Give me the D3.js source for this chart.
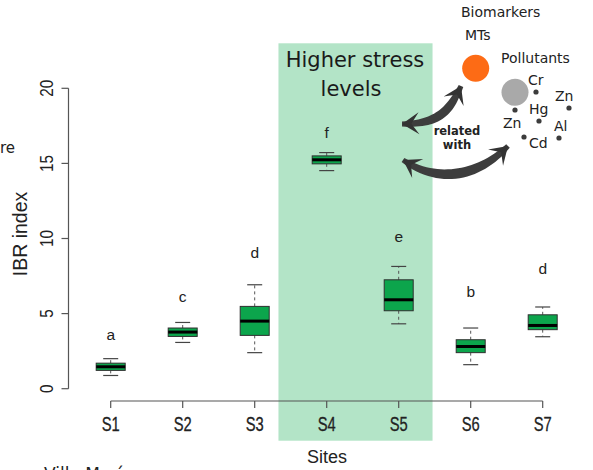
<!DOCTYPE html>
<html lang="en">
<head>
<meta charset="UTF-8">
<title>IBR index by site</title>
<style>
  body { margin: 0; padding: 0; background: #fff; overflow: hidden; }
  svg { display: block; }
  .sans { font-family: "Liberation Sans", Arial, sans-serif; }
  .dv { font-family: "DejaVu Sans", Verdana, sans-serif; }
</style>
</head>
<body>
<svg id="chart" width="593" height="470"></svg>
<script src="https://d3js.org/d3.v7.min.js"></script>
<script>
// Box statistics (IBR index per site)
const sites = ["S1", "S2", "S3", "S4", "S5", "S6", "S7"];
const whiskerLow = [0.88, 3.08, 2.40, 14.52, 4.32, 1.60, 3.46];
const q1 = [1.22, 3.48, 3.55, 14.97, 5.19, 2.40, 3.93];
const medians = [1.46, 3.77, 4.50, 15.24, 5.92, 2.81, 4.21];
const q3 = [1.70, 4.04, 5.48, 15.50, 7.25, 3.26, 4.92];
const whiskerHigh = [2.00, 4.41, 6.92, 15.72, 8.14, 4.04, 5.44];
// significance letters and the height (in IBR units) of their baseline
const letters = ["a", "c", "d", "f", "e", "b", "d"];
const letterY = [3.26, 5.74, 8.72, 16.68, 9.78, 6.12, 7.65];
const yTicks = [0, 5, 10, 15, 20];
const highlighted = ["S4", "S5"];

const pollutants = ["Cr", "Zn", "Hg", "Zn", "Al", "Cd"];

const svg = d3.select("#chart");

// scales
const y = d3.scaleLinear().domain([0, 20]).range([388.7, 88.3]);
const x = d3.scalePoint().domain(sites).range([110.7, 542.7]);
const boxW = 29;
const capW = 15;

// highlighted band for higher stress sites
const step = x.step();
svg.append("rect")
  .attr("x", x(highlighted[0]) - step * 0.67)
  .attr("width", x(highlighted[1]) - x(highlighted[0]) + step * 1.14)
  .attr("y", 43.3)
  .attr("height", 397.4)
  .attr("fill", "#b3e4c7");

svg.append("text").attr("class", "dv")
  .attr("x", 355).attr("y", 67)
  .attr("text-anchor", "middle")
  .attr("font-size", 21).attr("fill", "#1a1a1a")
  .text("Higher stress");
svg.append("text").attr("class", "dv")
  .attr("x", 351).attr("y", 96)
  .attr("text-anchor", "middle")
  .attr("font-size", 21).attr("fill", "#1a1a1a")
  .text("levels");

// y axis (R style, left of plot)
const yAxisX = 68.5;
svg.append("line")
  .attr("x1", yAxisX).attr("x2", yAxisX)
  .attr("y1", y(0)).attr("y2", y(20))
  .attr("stroke", "#555").attr("stroke-width", 1.2);
svg.selectAll(".ytick").data(yTicks).enter().append("line")
  .attr("x1", yAxisX - 7).attr("x2", yAxisX)
  .attr("y1", d => y(d)).attr("y2", d => y(d))
  .attr("stroke", "#555").attr("stroke-width", 1.2);
svg.selectAll(".ylab").data(yTicks).enter().append("text")
  .attr("class", "sans")
  .attr("transform", d => `translate(52.5,${y(d)}) rotate(-90)`)
  .attr("text-anchor", "middle")
  .attr("font-size", 17.5).attr("fill", "#222")
  .attr("textLength", d => String(d).length * 8.5)
  .attr("lengthAdjust", "spacingAndGlyphs")
  .text(d => d);

svg.append("text").attr("class", "sans")
  .attr("transform", "translate(27,234) rotate(-90)")
  .attr("text-anchor", "middle")
  .attr("font-size", 19.5).attr("fill", "#222")
  .text("IBR index");

// x axis
const xAxisY = 401;
svg.append("line")
  .attr("x1", x(sites[0])).attr("x2", x(sites[sites.length - 1]))
  .attr("y1", xAxisY).attr("y2", xAxisY)
  .attr("stroke", "#555").attr("stroke-width", 1.2);
svg.selectAll(".xtick").data(sites).enter().append("line")
  .attr("x1", d => x(d)).attr("x2", d => x(d))
  .attr("y1", xAxisY).attr("y2", xAxisY + 7)
  .attr("stroke", "#555").attr("stroke-width", 1.2);
svg.selectAll(".xlab").data(sites).enter().append("text")
  .attr("class", "sans")
  .attr("x", d => x(d)).attr("y", 430.5)
  .attr("text-anchor", "middle")
  .attr("font-size", 20).attr("fill", "#222")
  .attr("stroke", "#222").attr("stroke-width", 0.3)
  .attr("textLength", 18).attr("lengthAdjust", "spacingAndGlyphs")
  .text(d => d);

svg.append("text").attr("class", "sans")
  .attr("x", 327).attr("y", 463)
  .attr("text-anchor", "middle")
  .attr("font-size", 18).attr("fill", "#222")
  .text("Sites");

// boxplots
const boxes = sites.map((s, i) => ({
  site: s, lo: whiskerLow[i], q1: q1[i], med: medians[i], q3: q3[i], hi: whiskerHigh[i],
  letter: letters[i], ly: letterY[i]
}));

const g = svg.append("g");
const bx = g.selectAll(".box").data(boxes).enter().append("g");

// dashed whiskers
bx.append("line")
  .attr("x1", d => x(d.site)).attr("x2", d => x(d.site))
  .attr("y1", d => y(d.q3)).attr("y2", d => y(d.hi))
  .attr("stroke", "#555").attr("stroke-dasharray", "3,3");
bx.append("line")
  .attr("x1", d => x(d.site)).attr("x2", d => x(d.site))
  .attr("y1", d => y(d.q1)).attr("y2", d => y(d.lo))
  .attr("stroke", "#555").attr("stroke-dasharray", "3,3");
// caps
bx.append("line")
  .attr("x1", d => x(d.site) - capW / 2).attr("x2", d => x(d.site) + capW / 2)
  .attr("y1", d => y(d.hi)).attr("y2", d => y(d.hi))
  .attr("stroke", "#444").attr("stroke-width", 1.2);
bx.append("line")
  .attr("x1", d => x(d.site) - capW / 2).attr("x2", d => x(d.site) + capW / 2)
  .attr("y1", d => y(d.lo)).attr("y2", d => y(d.lo))
  .attr("stroke", "#444").attr("stroke-width", 1.2);
// box
bx.append("rect")
  .attr("x", d => x(d.site) - boxW / 2).attr("width", boxW)
  .attr("y", d => y(d.q3)).attr("height", d => y(d.q1) - y(d.q3))
  .attr("fill", "#0ca54c").attr("stroke", "#2f2f2f").attr("stroke-width", 1);
// median
bx.append("line")
  .attr("x1", d => x(d.site) - boxW / 2).attr("x2", d => x(d.site) + boxW / 2)
  .attr("y1", d => y(d.med)).attr("y2", d => y(d.med))
  .attr("stroke", "#000").attr("stroke-width", 3);
// letters
bx.append("text").attr("class", "sans")
  .attr("x", d => x(d.site)).attr("y", d => y(d.ly))
  .attr("text-anchor", "middle")
  .attr("font-size", 15.5).attr("fill", "#222")
  .text(d => d.letter);

// cut-off panel texts at the edges
svg.append("text").attr("class", "dv")
  .attr("x", 15).attr("y", 153).attr("text-anchor", "end")
  .attr("font-size", 15).attr("fill", "#222").text("re");
svg.append("text").attr("class", "dv")
  .attr("x", 44).attr("y", 480)
  .attr("font-size", 17).attr("fill", "#222").text("Villa María");

// biomarkers / pollutants legend
svg.append("text").attr("class", "dv").attr("x", 461).attr("y", 17)
  .attr("font-size", 14).attr("fill", "#222").text("Biomarkers");
svg.append("text").attr("class", "dv").attr("x", 465).attr("y", 40)
  .attr("font-size", 14).attr("fill", "#222").text("MTs");
svg.append("text").attr("class", "dv").attr("x", 501).attr("y", 63)
  .attr("font-size", 14).attr("fill", "#222").text("Pollutants");
svg.append("circle").attr("cx", 475.7).attr("cy", 68.3).attr("r", 13.5).attr("fill", "#fd6b15");
svg.append("circle").attr("cx", 515).attr("cy", 92.3).attr("r", 13.5).attr("fill", "#a9a9a9");

const labPos = [[528, 85], [555, 100.7], [529, 114], [503, 127.7], [554, 130.7], [529, 148.3]];
const dotPos = [[536, 92], [569, 108], [539, 121], [515, 110], [559, 138], [524, 137]];
svg.selectAll(".pl").data(pollutants).enter().append("text")
  .attr("class", "dv")
  .attr("x", (d, i) => labPos[i][0]).attr("y", (d, i) => labPos[i][1])
  .attr("font-size", 14).attr("fill", "#222").text(d => d);
svg.selectAll(".pd").data(dotPos).enter().append("circle")
  .attr("cx", d => d[0]).attr("cy", d => d[1]).attr("r", 2.6).attr("fill", "#3c3c3c");

// curved double headed arrows
function arrowShape(p0, c1, c2, p3, w0, w1) {
  const n = 30, top = [], bot = [];
  const pt = t => {
    const u = 1 - t;
    return [
      u*u*u*p0[0] + 3*u*u*t*c1[0] + 3*u*t*t*c2[0] + t*t*t*p3[0],
      u*u*u*p0[1] + 3*u*u*t*c1[1] + 3*u*t*t*c2[1] + t*t*t*p3[1]
    ];
  };
  for (let i = 0; i <= n; i++) {
    const t = i / n;
    const a = pt(Math.max(0, t - 0.01)), b = pt(Math.min(1, t + 0.01));
    let dx = b[0] - a[0], dy = b[1] - a[1];
    const len = Math.hypot(dx, dy); dx /= len; dy /= len;
    const w = (w0 + (w1 - w0) * Math.sin(Math.PI * t)) / 2;
    const p = pt(t);
    top.push([p[0] - dy * w, p[1] + dx * w]);
    bot.push([p[0] + dy * w, p[1] - dx * w]);
  }
  const head = (tip, dirFrom, size) => {
    let dx = tip[0] - dirFrom[0], dy = tip[1] - dirFrom[1];
    const len = Math.hypot(dx, dy); dx /= len; dy /= len;
    const bxp = tip[0] - dx * size, byp = tip[1] - dy * size;
    return [tip, [bxp - dy * size * 0.65, byp + dx * size * 0.65], [tip[0] - dx * size * 0.55, tip[1] - dy * size * 0.55], [bxp + dy * size * 0.65, byp - dx * size * 0.65]];
  };
  const line = d3.line();
  return {
    body: line(top.concat(bot.reverse())) + "Z",
    h0: line(head(p0, pt(0.1), 17)) + "Z",
    h1: line(head(p3, pt(0.9), 17)) + "Z"
  };
}

const arrows = [
  arrowShape([402, 124], [440, 124], [450, 110], [461, 86], 5, 9),
  arrowShape([403, 160], [440, 185], [480, 175], [508, 146], 5, 10)
];
arrows.forEach(a => {
  svg.append("path").attr("d", a.body).attr("fill", "#3d3d3d");
  svg.append("path").attr("d", a.h0).attr("fill", "#333");
  svg.append("path").attr("d", a.h1).attr("fill", "#333");
});

svg.append("text").attr("class", "dv")
  .attr("x", 457).attr("y", 135).attr("text-anchor", "middle")
  .attr("font-size", 11.5).attr("font-weight", "bold").attr("fill", "#222").text("related");
svg.append("text").attr("class", "dv")
  .attr("x", 457).attr("y", 149).attr("text-anchor", "middle")
  .attr("font-size", 11.5).attr("font-weight", "bold").attr("fill", "#222").text("with");
</script>
</body>
</html>
